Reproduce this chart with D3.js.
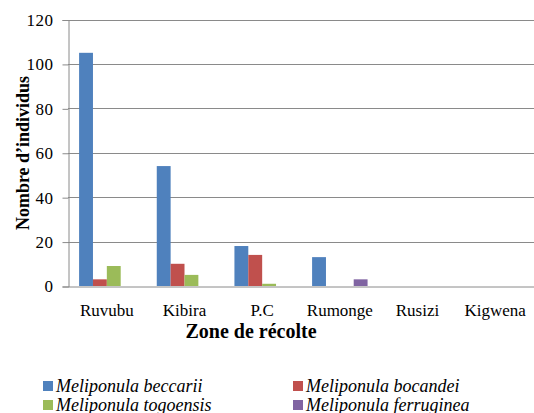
<!DOCTYPE html>
<html><head><meta charset="utf-8">
<script src="https://cdn.jsdelivr.net/npm/d3@7"></script>
</head><body style="margin:0">
<script>
const categories = ["Ruvubu","Kibira","P.C","Rumonge","Rusizi","Kigwena"];
const seriesNames = ["Meliponula beccarii","Meliponula bocandei","Meliponula togoensis","Meliponula ferruginea"];
const beccarii   = [105, 54, 18, 13, 0, 0];
const bocandei   = [3, 10, 14, 0, 0, 0];
const togoensis  = [9, 5, 1, 0, 0, 0];
const ferruginea = [0, 0, 0, 3, 0, 0];
const yTicks = [0, 20, 40, 60, 80, 100, 120];
const colors = ["#4F81BD","#C0504D","#9BBB59","#8064A2"];
const seriesValues = [beccarii, bocandei, togoensis, ferruginea];

const W = 534, H = 413;
const FONT = '"Liberation Serif"';
const svg = d3.select("body").append("svg").attr("width", W).attr("height", H)
  .style("font-family", FONT);
const pLeft = 68, pRight = 534, pTop = 19.5, pBottom = 286;

const x = d3.scaleBand().domain(categories).range([pLeft, pRight]).padding(0);
const xs = d3.scaleBand().domain(d3.range(seriesNames.length)).range([0, x.bandwidth()]).paddingInner(0).paddingOuter(0.8);
const y = d3.scaleLinear().domain([0, 120]).range([pBottom, pTop]);

// gridlines
svg.append("g").selectAll("line").data(yTicks.filter(d => d > 0)).join("line")
  .attr("x1", pLeft).attr("x2", pRight)
  .attr("y1", d => Math.round(y(d)) + 0.5).attr("y2", d => Math.round(y(d)) + 0.5)
  .attr("stroke", "#8a8a8a").attr("stroke-width", 1);

// y axis
const yAxis = d3.axisLeft(y).tickValues(yTicks).tickSize(6).tickPadding(9).tickFormat(d3.format("d"));
const gy = svg.append("g").attr("transform", `translate(${pLeft + 0.5},0.5)`).call(yAxis);
gy.attr("font-family", null).attr("font-size", null);
gy.select(".domain").attr("stroke", "#8a8a8a");
gy.selectAll(".tick line").attr("stroke", "#8a8a8a");
gy.selectAll(".tick text").style("font-family", FONT).style("font-size", "17px").attr("fill", "#000")
  .attr("letter-spacing", 0.5);

// bars
seriesValues.forEach((vals, si) => {
  svg.append("g").selectAll("rect").data(vals.map((v, i) => ({v, c: categories[i]}))).join("rect")
    .attr("x", d => x(d.c) + xs(si))
    .attr("width", xs.bandwidth())
    .attr("y", d => y(d.v))
    .attr("height", d => pBottom - y(d.v))
    .attr("fill", colors[si]);
});

// x axis
const xAxis = d3.axisBottom(x).tickSize(0).tickPadding(17);
const gx = svg.append("g").attr("transform", `translate(0,${Math.round(pBottom) + 0.5})`).call(xAxis);
gx.attr("font-family", null).attr("font-size", null);
gx.select(".domain").attr("stroke", "#8a8a8a");
gx.selectAll(".tick text").style("font-family", FONT).style("font-size", "17px").attr("fill", "#000");

// axis titles
svg.append("text").attr("x", 251).attr("y", 338).attr("text-anchor", "middle")
  .style("font-family", FONT).style("font-weight", "bold").style("font-size", "20px")
  .text("Zone de récolte");
svg.append("text").attr("transform", "translate(29,153) rotate(-90)").attr("text-anchor", "middle")
  .style("font-family", FONT).style("font-weight", "bold").style("font-size", "18px")
  .text("Nombre d’individus");

// legend
const legPos = [[43, 381], [293, 381], [43, 400], [293, 400]];
seriesNames.forEach((name, i) => {
  const [lx, ly] = legPos[i];
  svg.append("rect").attr("x", lx).attr("y", ly).attr("width", 10).attr("height", 10).attr("fill", colors[i]);
  svg.append("text").attr("x", lx + 13).attr("y", ly + 10.5)
    .style("font-family", FONT).style("font-style", "italic").style("font-size", "18px")
    .text(name);
});
</script>
</body></html>
